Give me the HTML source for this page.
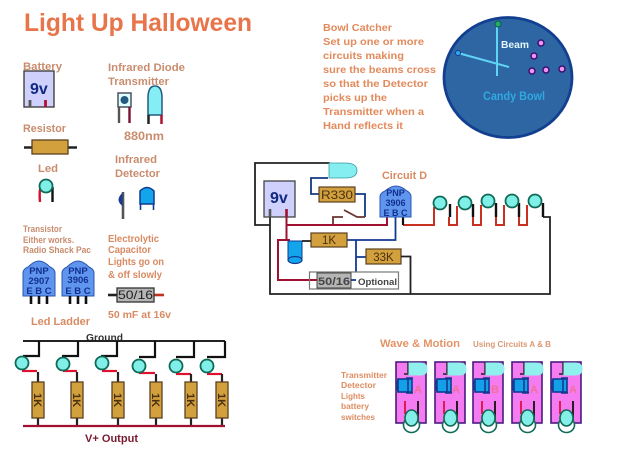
<!DOCTYPE html>
<html>
<head>
<meta charset="utf-8">
<style>
html,body{margin:0;padding:0;background:#fff}
svg{display:block;font-family:"Liberation Sans",sans-serif}
.o{fill:#d98a62;font-size:11px;font-weight:bold}
.b{fill:#c98c6e;font-size:11px;font-weight:bold}
</style>
</head>
<body>
<svg width="620" height="465" viewBox="0 0 620 465" xmlns="http://www.w3.org/2000/svg">
<defs>
<g id="res1k"><rect x="-6" y="-18" width="12" height="36" fill="#d2a03c" stroke="#5a4020" stroke-width="1.300"/></g>
<g id="led"><circle r="6.500" fill="#7fefe8" stroke="#0f6a58" stroke-width="1.800"/></g>
<g id="tr"><path d="M0 32V9Q0 5 5 3Q11 -3 16 -3Q21 -3 27 3Q32 5 32 9V32Z" fill="#5f95ee" stroke="#2a55b0"/><path d="M8 32v8M16 32v8M24 32v8" stroke="#111" stroke-width="2.600"/></g>
<g id="mod">
<rect x="0" y="0" width="30" height="61" fill="#f57cf0" stroke="#4a1a80" stroke-width="1.600"/>
<path d="M12 0V11M8 12H13" stroke="#222" stroke-width="1.400" fill="none"/>
<path d="M13 1H24Q31 1 31 7Q31 13 24 13H13Z" fill="#8ff0ee" stroke="#8ff0ee"/>
<rect x="2" y="17" width="14" height="13" fill="#14a0e8" stroke="#123a90" stroke-width="1.600"/>
<path d="M2 18Q-1 23 2 29M12 16V31M10 16H17M10 31H17" stroke="#123a90" stroke-width="1.600" fill="none"/>
<path d="M9 39V52" stroke="#e01040" stroke-width="1.800"/>
<ellipse cx="15.500" cy="63" rx="8" ry="7.500" fill="#fff" stroke="#0f6a58" stroke-width="1.600"/>
<path d="M22 39V58" stroke="#111" stroke-width="1.800"/>
<ellipse cx="15.500" cy="56" rx="6.500" ry="8" fill="#84efe6" stroke="#0f6a58" stroke-width="1.600"/>
</g>
</defs>

<text x="24" y="31" font-size="25" font-weight="bold" fill="#e8744a" textLength="228" lengthAdjust="spacingAndGlyphs">Light Up Halloween</text>

<!-- Battery -->
<text x="23" y="70" class="b" textLength="39" lengthAdjust="spacingAndGlyphs">Battery</text>
<rect x="24" y="71" width="30" height="36" fill="#cfd0fb" stroke="#333" stroke-width="1.300"/>
<text x="30" y="94" font-size="16" font-weight="bold" fill="#112a80">9v</text>
<path d="M30 100v7" stroke="#555" stroke-width="2.800"/><path d="M45.500 100v7" stroke="#b01030" stroke-width="2.800"/>

<!-- IR diode -->
<text x="108" y="71" class="b" textLength="77" lengthAdjust="spacingAndGlyphs">Infrared Diode</text>
<text x="108" y="85" class="b" textLength="61" lengthAdjust="spacingAndGlyphs">Transmitter</text>
<rect x="118" y="93" width="13" height="14" fill="#dff" stroke="#445" stroke-width="1.400"/>
<circle cx="124.500" cy="100" r="4" fill="#245a80"/>
<path d="M119 107v16" stroke="#555" stroke-width="2.400"/><path d="M129.500 107v16" stroke="#7a1030" stroke-width="2.400"/>
<path d="M148 115V98Q148 86 155 86Q162 86 162 98V115Z" fill="#84eef4" stroke="#235a80" stroke-width="1.500"/>
<path d="M148.500 115v9" stroke="#222" stroke-width="2.500"/><path d="M161.500 115v9" stroke="#b01030" stroke-width="2.500"/>
<text x="124" y="140" class="b" style="font-size:12px" textLength="40" lengthAdjust="spacingAndGlyphs">880nm</text>

<!-- Resistor -->
<text x="23" y="132" class="b" textLength="43" lengthAdjust="spacingAndGlyphs">Resistor</text>
<path d="M24 147.500H77" stroke="#222" stroke-width="2.600"/>
<rect x="32" y="140" width="36" height="14" fill="#d2a03c" stroke="#5a4020" stroke-width="1.300"/>

<!-- Led -->
<text x="38" y="172" class="b" textLength="20" lengthAdjust="spacingAndGlyphs">Led</text>
<path d="M41 186Q39 190 40 202" stroke="#d01030" stroke-width="2.400" fill="none"/>
<path d="M52.500 187V202" stroke="#111" stroke-width="2.400" fill="none"/>
<use href="#led" x="46" y="186"/>

<!-- Detector -->
<text x="115" y="163" class="b" textLength="42" lengthAdjust="spacingAndGlyphs">Infrared</text>
<text x="115" y="177" class="b" textLength="45" lengthAdjust="spacingAndGlyphs">Detector</text>
<path d="M123 192V219" stroke="#555" stroke-width="2.600"/>
<path d="M122 194Q116 200 122 205Z" fill="#1a3a90" stroke="#1a3a90"/>
<path d="M140 191Q147 184 154 191V204H140Z" fill="#12a5ec" stroke="#123a90" stroke-width="1.500"/>
<path d="M140.500 204v6M153.500 204v6" stroke="#123a90" stroke-width="1.600"/>

<!-- Transistors -->
<text x="23" y="232" class="b" style="font-size:9px" textLength="39" lengthAdjust="spacingAndGlyphs">Transistor</text>
<text x="23" y="243" class="b" style="font-size:9px" textLength="51" lengthAdjust="spacingAndGlyphs">Either works.</text>
<text x="23" y="253" class="b" style="font-size:9px" textLength="68" lengthAdjust="spacingAndGlyphs">Radio Shack Pac</text>
<use href="#tr" x="23" y="264"/>
<use href="#tr" x="62" y="264"/>
<g font-size="9.500" font-weight="bold" fill="#12308f" text-anchor="middle">
<text x="39" y="274">PNP</text><text x="39" y="284">2907</text><text x="39" y="294">E B C</text>
<text x="78" y="274">PNP</text><text x="78" y="283">3906</text><text x="78" y="294">E B C</text>
</g>

<!-- Capacitor -->
<text x="108" y="242" class="o" style="font-size:10px" textLength="51" lengthAdjust="spacingAndGlyphs">Electrolytic</text>
<text x="108" y="253" class="o" style="font-size:10px" textLength="43" lengthAdjust="spacingAndGlyphs">Capacitor</text>
<text x="108" y="265" class="o" style="font-size:10px" textLength="56" lengthAdjust="spacingAndGlyphs">Lights go on</text>
<text x="108" y="278" class="o" style="font-size:10px" textLength="54" lengthAdjust="spacingAndGlyphs">&amp; off slowly</text>
<path d="M108 295H117" stroke="#222" stroke-width="2.600"/><path d="M154 295H164" stroke="#c03020" stroke-width="2.600"/>
<rect x="117" y="288" width="37" height="14" fill="#b5b5b5" stroke="#333" stroke-width="1.300"/>
<text x="118" y="299" font-size="12" fill="#222" textLength="35" lengthAdjust="spacingAndGlyphs">50/16</text>
<text x="108" y="318" class="o" style="font-size:10.500px" textLength="63" lengthAdjust="spacingAndGlyphs">50 mF at 16v</text>

<!-- Ladder -->
<text x="31" y="325" class="o" style="font-size:11px" textLength="59" lengthAdjust="spacingAndGlyphs">Led Ladder</text>
<text x="86" y="341" font-size="10.500" font-weight="bold" fill="#333" textLength="37" lengthAdjust="spacingAndGlyphs">Ground</text>
<path d="M23 341H225" stroke="#222" stroke-width="2"/>
<g stroke="#111" stroke-width="2.200" fill="none">
<path d="M39 341V356H23"/><path d="M78 341V356H62"/><path d="M117 341V356H101"/><path d="M155 341V357H139"/><path d="M194 341V357H176"/><path d="M225 341V357H207"/>
</g>
<g stroke="#e01030" stroke-width="2.200" fill="none">
<path d="M22 371H37"/><path d="M63 371H77"/><path d="M102 371H117"/><path d="M139 373H155"/><path d="M176 374H191"/><path d="M207 374H222"/>
</g>
<g stroke="#222" stroke-width="2.200" fill="none">
<path d="M38 372V382M38 418V426"/><path d="M77 372V382M77 418V426"/><path d="M118 372V382M118 418V426"/><path d="M156 374V382M156 418V426"/><path d="M191 374V382M191 418V426"/><path d="M222 374V382M222 418V426"/>
</g>
<use href="#led" x="22" y="363"/><use href="#led" x="63" y="364"/><use href="#led" x="102" y="363"/>
<use href="#led" x="139" y="366"/><use href="#led" x="176" y="366"/><use href="#led" x="207" y="366"/>
<use href="#res1k" x="38" y="400"/><use href="#res1k" x="77" y="400"/><use href="#res1k" x="118" y="400"/>
<use href="#res1k" x="156" y="400"/><use href="#res1k" x="191" y="400"/><use href="#res1k" x="222" y="400"/>
<g font-size="11" font-weight="bold" fill="#4a3010" text-anchor="middle">
<text transform="translate(34,400) rotate(90)">1K</text><text transform="translate(73,400) rotate(90)">1K</text><text transform="translate(114,400) rotate(90)">1K</text>
<text transform="translate(152,400) rotate(90)">1K</text><text transform="translate(187,400) rotate(90)">1K</text><text transform="translate(218,400) rotate(90)">1K</text>
</g>
<path d="M23 426H225" stroke="#a01030" stroke-width="2.200"/>
<text x="85" y="442" font-size="11" font-weight="bold" fill="#7a1c30" textLength="53" lengthAdjust="spacingAndGlyphs">V+ Output</text>

<!-- Bowl text -->
<g font-weight="bold" fill="#e38a5c" font-size="10.500">
<text x="323" y="31" textLength="69" lengthAdjust="spacingAndGlyphs">Bowl Catcher</text>
<text x="323" y="45" textLength="101" lengthAdjust="spacingAndGlyphs">Set up one or more</text>
<text x="323" y="59" textLength="81" lengthAdjust="spacingAndGlyphs">circuits making</text>
<text x="323" y="73" textLength="113" lengthAdjust="spacingAndGlyphs">sure the beams cross</text>
<text x="323" y="87" textLength="105" lengthAdjust="spacingAndGlyphs">so that the Detector</text>
<text x="323" y="101" textLength="64" lengthAdjust="spacingAndGlyphs">picks up the</text>
<text x="323" y="115" textLength="101" lengthAdjust="spacingAndGlyphs">Transmitter when a</text>
<text x="323" y="129" textLength="80" lengthAdjust="spacingAndGlyphs">Hand reflects it</text>
</g>

<!-- Bowl -->
<ellipse cx="508" cy="77.500" rx="64" ry="60" fill="#2e66a4" stroke="#123f8f" stroke-width="2.800"/>
<path d="M497 24V76M458 53L509 67" stroke="#60d4f4" stroke-width="2"/>
<circle cx="498" cy="24" r="3" fill="#22b060" stroke="#0e5a50"/>
<circle cx="458" cy="53" r="2.500" fill="#30a8ee" stroke="#123f8f"/>
<text x="501" y="48" font-size="10.500" font-weight="bold" fill="#e4f6fb" textLength="28" lengthAdjust="spacingAndGlyphs">Beam</text>
<g fill="#ee96f0" stroke="#3a1070" stroke-width="1.500">
<circle cx="541" cy="43" r="3"/><circle cx="534" cy="56" r="3"/><circle cx="532" cy="71" r="3"/><circle cx="546" cy="70" r="3"/><circle cx="562" cy="69" r="3"/>
</g>
<text x="483" y="100" font-size="11.500" font-weight="bold" fill="#30a8e0" textLength="62" lengthAdjust="spacingAndGlyphs">Candy Bowl</text>

<!-- Circuit D -->
<text x="382" y="179" class="o" style="font-size:11px" textLength="45" lengthAdjust="spacingAndGlyphs">Circuit D</text>
<path d="M330 163H255V225H270" stroke="#222" stroke-width="1.800" fill="none"/>
<path d="M270 216V294H550V217H543" stroke="#222" stroke-width="1.800" fill="none"/>
<path d="M328 178H311V194H319" stroke="#123a80" stroke-width="1.800" fill="none"/>
<path d="M355 194H365V217" stroke="#123a80" stroke-width="1.800" fill="none"/>
<path d="M333 225V217H343M344 210L357 217H365" stroke="#6a3530" stroke-width="1.800" fill="none"/>
<path d="M286.500 216V240H278V280H312" stroke="#a01030" stroke-width="2" fill="none"/>
<path d="M286.500 225H387V217M278 240H290" stroke="#a01030" stroke-width="2" fill="none"/>
<path d="M347 240H395.500V217M356 240V280H352M356 257H366" stroke="#123a90" stroke-width="1.800" fill="none"/>
<path d="M403 225H434V207" stroke="#c83020" stroke-width="2" fill="none"/>
<path d="M403 217V225" stroke="#111" stroke-width="2.200"/>
<path d="M449 217V225H457V206" stroke="#c83020" stroke-width="2" fill="none"/>
<path d="M473 217V225H481V205" stroke="#c83020" stroke-width="2" fill="none"/>
<path d="M496 217V225H504V205" stroke="#c83020" stroke-width="2" fill="none"/>
<path d="M519 217V225H527V205" stroke="#c83020" stroke-width="2" fill="none"/>
<path d="M450 204V217M473 204V217M496 203V217M519 203V217M543 203V217" stroke="#111" stroke-width="2.400" fill="none"/>
<use href="#led" x="440" y="203"/><use href="#led" x="465" y="203"/><use href="#led" x="488" y="201"/><use href="#led" x="512" y="201"/><use href="#led" x="535" y="201"/>

<rect x="264" y="181" width="31" height="36" fill="#cfd0fb" stroke="#444" stroke-width="1.300"/>
<text x="270" y="203" font-size="16" font-weight="bold" fill="#112a80">9v</text>
<path d="M270 209v8" stroke="#555" stroke-width="2.600"/><path d="M286.500 209v8" stroke="#a01030" stroke-width="2.600"/>

<path d="M329 163H345Q357 163 357 170.500Q357 178 345 178H329Z" fill="#84eef0" stroke="#3a9aa0" stroke-width=".8"/>
<rect x="319" y="187" width="36" height="15" fill="#d2a03c" stroke="#5a4020" stroke-width="1.200"/>
<text x="321" y="199" font-size="11.500" fill="#4a3010" textLength="32" lengthAdjust="spacingAndGlyphs">R330</text>

<path d="M380 217V197Q380 193 385 191Q391 186 396 186Q401 186 407 191Q411 193 411 197V217Z" fill="#5f95ee" stroke="#2a55b0"/>
<g font-size="9" font-weight="bold" fill="#12308f" text-anchor="middle">
<text x="395.500" y="196">PNP</text><text x="395.500" y="206">3906</text><text x="395.500" y="216">E B C</text>
</g>

<rect x="311" y="233" width="36" height="14" fill="#d2a03c" stroke="#5a4020" stroke-width="1.200"/>
<text x="329" y="244" font-size="11.500" fill="#4a3010" text-anchor="middle">1K</text>
<rect x="366" y="249" width="35" height="15" fill="#d2a03c" stroke="#5a4020" stroke-width="1.200"/>
<text x="383.500" y="261" font-size="11.500" fill="#4a3010" text-anchor="middle">33K</text>
<path d="M401 256.500H410.500V294" stroke="#222" stroke-width="1.800" fill="none"/>
<path d="M288 241V260H302V241Z" fill="#12a5ec" stroke="#123a90" stroke-width="1"/>
<ellipse cx="295" cy="260" rx="7" ry="3.500" fill="#12a5ec" stroke="#123a90" stroke-width="1.200"/>
<path d="M302 241H311" stroke="#222" stroke-width="1.800"/>
<rect x="309.500" y="272" width="89" height="17" fill="#fff" stroke="#777" stroke-width="1.200"/>
<rect x="317" y="273" width="34" height="15" fill="#b5b5b5" stroke="#444" stroke-width="1"/>
<text x="318" y="285" font-size="11" font-weight="bold" fill="#444" textLength="32" lengthAdjust="spacingAndGlyphs">50/16</text>
<text x="358" y="285" font-size="9" font-weight="bold" fill="#444" textLength="39" lengthAdjust="spacingAndGlyphs">Optional</text>
<path d="M310 280H317" stroke="#a01030" stroke-width="2"/>
<path d="M351 280H356" stroke="#123a90" stroke-width="1.800"/>

<!-- Wave and Motion -->
<text x="380" y="347" font-size="11" font-weight="bold" fill="#e39468" textLength="80" lengthAdjust="spacingAndGlyphs">Wave &amp; Motion</text>
<text x="473" y="347" font-size="8.500" font-weight="bold" fill="#d89874" textLength="78" lengthAdjust="spacingAndGlyphs">Using Circuits A &amp; B</text>
<g font-size="8.500" font-weight="bold" fill="#de8c60">
<text x="341" y="378" textLength="46" lengthAdjust="spacingAndGlyphs">Transmitter</text>
<text x="341" y="388" textLength="35" lengthAdjust="spacingAndGlyphs">Detector</text>
<text x="341" y="399" textLength="24" lengthAdjust="spacingAndGlyphs">Lights</text>
<text x="341" y="409" textLength="28" lengthAdjust="spacingAndGlyphs">battery</text>
<text x="341" y="420" textLength="34" lengthAdjust="spacingAndGlyphs">switches</text>
</g>
<use href="#mod" x="396" y="362"/><use href="#mod" x="435" y="362"/><use href="#mod" x="473" y="362"/><use href="#mod" x="512" y="362"/><use href="#mod" x="551" y="362"/>
<g font-size="11" font-weight="bold" fill="#f0709a" text-anchor="middle">
<text x="418" y="393">A</text><text x="456" y="393">A</text><text x="495" y="393">B</text><text x="534" y="393">A</text><text x="573" y="393">A</text>
</g>
</svg>
</body>
</html>
